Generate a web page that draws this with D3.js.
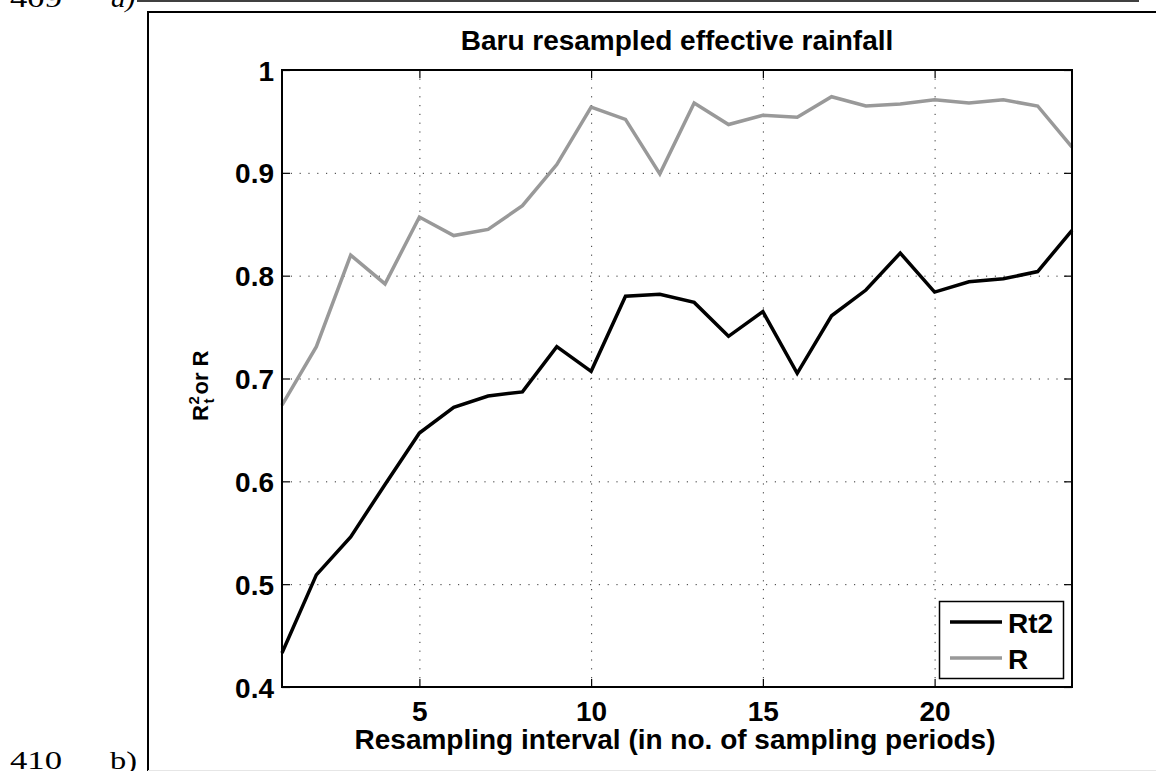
<!DOCTYPE html>
<html>
<head>
<meta charset="utf-8">
<script src="https://cdn.jsdelivr.net/npm/d3@7"></script>
<style>
  html, body { margin: 0; padding: 0; background: #fff; }
  svg { display: block; }
  text { font-family: "Liberation Sans", Arial, Helvetica, sans-serif; font-weight: bold; fill: #000; }
  .serif { font-family: "Liberation Serif", "Times New Roman", serif; font-weight: normal; }
</style>
</head>
<body>
<svg id="fig" width="1156" height="771"></svg>
<script>
// Resampling interval (number of sampling periods)
const intervals = d3.range(1, 25);

// Rt2 series
const rt2 = [0.433, 0.509, 0.546, 0.597, 0.647, 0.672, 0.683, 0.687, 0.731, 0.707,
             0.780, 0.782, 0.774, 0.741, 0.765, 0.705, 0.761, 0.786, 0.822, 0.784,
             0.794, 0.797, 0.804, 0.844];

// R series
const rSeries = [0.674, 0.731, 0.820, 0.792, 0.857, 0.839, 0.845, 0.868, 0.908, 0.964,
                 0.952, 0.899, 0.968, 0.947, 0.956, 0.954, 0.974, 0.965, 0.967, 0.971,
                 0.968, 0.971, 0.965, 0.925];

const xTicks = [5, 10, 15, 20];
const yTicks = [0.4, 0.5, 0.6, 0.7, 0.8, 0.9, 1];

const seriesNames = ["Rt2", "R"];
const seriesColors = ["#000000", "#999999"];

const svg = d3.select("#fig");

// page furniture around the figure
svg.append("line").attr("x1", 137).attr("x2", 1139).attr("y1", 1).attr("y2", 1)
  .attr("stroke", "#000").attr("stroke-width", 1.5);
svg.append("path").attr("d", "M148,771 V12 H1156")
  .attr("fill", "none").attr("stroke", "#000").attr("stroke-width", 2);
svg.append("line").attr("x1", 148).attr("x2", 1156).attr("y1", 770.5).attr("y2", 770.5)
  .attr("stroke", "#e6e6e6").attr("stroke-width", 1);
const lineNo = (txt, xx, yy, len, italic) => svg.append("text").attr("class", "serif")
  .attr("x", xx).attr("y", yy).style("font-size", "26px")
  .attr("textLength", len).attr("lengthAdjust", "spacingAndGlyphs")
  .attr("font-style", italic ? "italic" : "normal").text(txt);
lineNo("409", 10, 7, 52, false);
lineNo("a)", 111, 7, 24, true);
lineNo("410", 10, 769, 52, false);
lineNo("b)", 110, 769, 27, false);

// plot area
const L = 282, R = 1072, T = 70, B = 687;
const x = d3.scaleLinear().domain([1, 24]).range([L, R]);
const y = d3.scaleLinear().domain([0.4, 1]).range([B, T]);

// dotted grid
const grid = svg.append("g").attr("stroke", "#333").attr("stroke-width", 1)
  .attr("stroke-dasharray", "1.2,7.6");
grid.selectAll(".gx").data(xTicks).join("line")
  .attr("x1", d => x(d) + 0.5).attr("x2", d => x(d) + 0.5).attr("y1", B).attr("y2", T);
grid.selectAll(".gy").data(yTicks.filter(d => d > 0.4 && d < 1)).join("line")
  .attr("y1", d => y(d) + 0.5).attr("y2", d => y(d) + 0.5).attr("x1", L).attr("x2", R);

// axes with inward ticks
const tickLen = 8;
const fmt = d => (d === 1 ? "1" : d3.format(".1f")(d));
const axL = svg.append("g").attr("transform", `translate(${L},0)`)
  .call(d3.axisLeft(y).tickValues(yTicks).tickFormat(fmt).tickSizeInner(-tickLen).tickSizeOuter(0).tickPadding(8));
const axR = svg.append("g").attr("transform", `translate(${R},0)`)
  .call(d3.axisRight(y).tickValues(yTicks).tickFormat("").tickSizeInner(-tickLen).tickSizeOuter(0));
const axB = svg.append("g").attr("transform", `translate(0,${B})`)
  .call(d3.axisBottom(x).tickValues(xTicks).tickFormat(d3.format("d")).tickSizeInner(-tickLen).tickSizeOuter(0).tickPadding(14));
const axT = svg.append("g").attr("transform", `translate(0,${T})`)
  .call(d3.axisTop(x).tickValues(xTicks).tickFormat("").tickSizeInner(-tickLen).tickSizeOuter(0));
[axL, axR, axB, axT].forEach(a => {
  a.select(".domain").remove();
  a.selectAll(".tick line").attr("stroke", "#000").attr("stroke-width", 1.2);
  a.selectAll(".tick text").style("font-size", "28px").attr("fill", "#000");
});
axL.selectAll(".tick text").attr("dy", "0.36em");

// series lines
const line = d3.line().x((d, i) => x(intervals[i])).y(d => y(d));
[rt2, rSeries].forEach((s, k) => {
  svg.append("path").datum(s).attr("d", line)
    .attr("fill", "none").attr("stroke", seriesColors[k]).attr("stroke-width", 3.5)
    .attr("stroke-linejoin", "miter");
});

// axes box
svg.append("rect").attr("x", L).attr("y", T).attr("width", R - L).attr("height", B - T)
  .attr("fill", "none").attr("stroke", "#000").attr("stroke-width", 2);

// title and axis labels
svg.append("text").attr("x", (L + R) / 2).attr("y", 50).attr("text-anchor", "middle")
  .style("font-size", "28px").text("Baru resampled effective rainfall");
svg.append("text").attr("x", (L + R) / 2 - 2).attr("y", 749).attr("text-anchor", "middle")
  .style("font-size", "28px").text("Resampling interval (in no. of sampling periods)");

const yl = svg.append("g").attr("transform", "translate(208,421) rotate(-90)");
yl.append("text").attr("x", 0).attr("y", 0).style("font-size", "22px").text("R");
yl.append("text").attr("x", 16.5).attr("y", -9).style("font-size", "15px").text("2");
yl.append("text").attr("x", 17.5).attr("y", 6).style("font-size", "15px").text("t");
yl.append("text").attr("x", 26.5).attr("y", 0).style("font-size", "22px").text("or R");

// legend
const lg = svg.append("g");
lg.append("rect").attr("x", 939.5).attr("y", 601.5).attr("width", 124).attr("height", 77)
  .attr("fill", "#fff").attr("stroke", "#000").attr("stroke-width", 1.5);
const legY = [622, 658];
seriesNames.forEach((n, k) => {
  lg.append("line").attr("x1", 950).attr("x2", 1002).attr("y1", legY[k]).attr("y2", legY[k])
    .attr("stroke", seriesColors[k]).attr("stroke-width", 3.5);
  lg.append("text").attr("x", 1008).attr("y", legY[k] + 10.5).style("font-size", "28px").text(n);
});
</script>
</body>
</html>
